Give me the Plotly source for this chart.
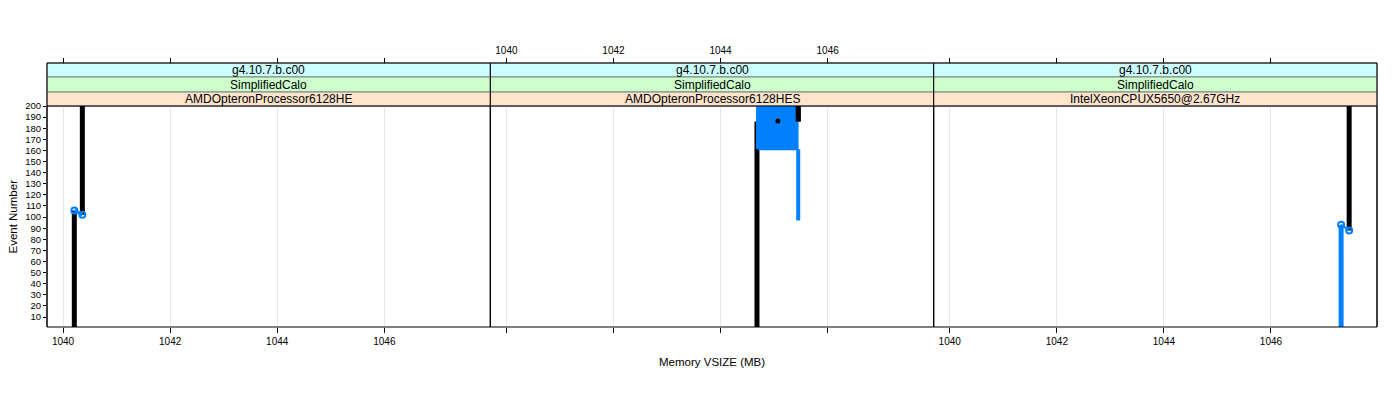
import plotly.graph_objects as go

# strip labels per panel (outer -> inner)
builds = ['g4.10.7.b.c00', 'g4.10.7.b.c00', 'g4.10.7.b.c00']
configs = ['SimplifiedCalo', 'SimplifiedCalo', 'SimplifiedCalo']
cpus = ['AMDOpteronProcessor6128HE', 'AMDOpteronProcessor6128HES', 'IntelXeonCPUX5650@2.67GHz']

x_ticks = [1040, 1042, 1044, 1046]
y_ticks = [10, 20, 30, 40, 50, 60, 70, 80, 90, 100, 110, 120, 130, 140, 150, 160, 170, 180, 190, 200]

# panel 1
p1_black_x = [1040.21, 1040.21, None, 1040.36, 1040.36]
p1_black_y = [1, 106, None, 102, 200]
p1_blue_x = [1040.21, 1040.36]
p1_blue_y = [106, 102]

# panel 2
p2_black_x = [1044.68, 1044.68, None, 1045.45, 1045.45]
p2_black_y = [1, 186, None, 186, 200]
p2_dot_x = [1045.07]
p2_dot_y = [186.5]
p2_zig_x = [1044.70, 1045.42, 1044.70, 1045.42, 1044.70, 1045.42, 1044.70, 1045.42,
            1044.70, 1045.42, 1044.70, 1045.42, 1044.70, 1045.42, 1044.70, 1045.42,
            1044.70, 1045.42, 1044.70, 1045.42, 1044.70, 1045.42, 1044.70, 1045.42,
            1044.70, 1045.42, 1044.70, 1045.42, 1044.70, 1045.42, 1044.70, 1045.42,
            1044.70, 1045.42, 1044.70, 1045.42, 1044.70, 1045.42, 1044.70, 1045.42]
p2_zig_y = [161, 162, 163, 164, 165, 166, 167, 168, 169, 170, 171, 172, 173, 174, 175, 176,
            177, 178, 179, 180, 181, 182, 183, 184, 185, 186, 187, 188, 189, 190, 191, 192,
            193, 194, 195, 196, 197, 198, 199, 200]
p2_blue_x = [1045.45, 1045.45]
p2_blue_y = [161, 97]

# panel 3
p3_black_x = [1047.46, 1047.46]
p3_black_y = [88, 200]
p3_blue_x = [1047.31, 1047.31, 1047.46]
p3_blue_y = [1, 93, 88]

BLACK = '#000000'
BLUE = '#0080ff'
FONT = 'Liberation Sans, Arial, sans-serif'

fig = go.Figure()


def line(x, y, color, width, xa, mode='lines', marker=None, shape='linear'):
    fig.add_trace(go.Scatter(x=x, y=y, mode=mode, xaxis=xa, yaxis='y',
                             line=dict(color=color, width=width, shape=shape),
                             marker=marker, showlegend=False, hoverinfo='skip'))


open_circle = dict(symbol='circle-open', size=6, color=BLUE, line=dict(width=2, color=BLUE))

line(p1_black_x, p1_black_y, BLACK, 5, 'x')
line(p1_blue_x, p1_blue_y, BLUE, 3, 'x', mode='lines+markers', marker=open_circle)

line(p2_black_x, p2_black_y, BLACK, 5, 'x2')
line(p2_zig_x, p2_zig_y, BLUE, 4, 'x2', shape='vh')
line(p2_blue_x, p2_blue_y, BLUE, 4, 'x2')
line(p2_black_x[3:], p2_black_y[3:], BLACK, 5, 'x2')
line(p2_dot_x, p2_dot_y, BLACK, 1, 'x2', mode='markers', marker=dict(size=5, color=BLACK))

line(p3_blue_x[:2], p3_blue_y[:2], BLUE, 5, 'x3')
line(p3_black_x, p3_black_y, BLACK, 5, 'x3')
line(p3_blue_x[1:], p3_blue_y[1:], BLUE, 2, 'x3', mode='lines+markers', marker=open_circle)

# dummy traces so the top axes get drawn
for xa in ['x4', 'x5', 'x6']:
    fig.add_trace(go.Scatter(x=[None], y=[None], xaxis=xa, yaxis='y',
                             showlegend=False, hoverinfo='skip'))

xr = [1039.7, 1047.98]
ydom = [0, 0.837]
doms = [[0, 1/3], [1/3, 2/3], [2/3, 1]]
tickfont = dict(family=FONT, size=10, color='black')

base = dict(range=xr, tickvals=x_ticks, ticks='outside', ticklen=5, tickcolor='black',
            tickfont=tickfont, zeroline=False, showline=False, automargin=False)

# page body adds an 8px offset, so the figure is 8px smaller on each side
fig.update_layout(
    width=1392, height=392,
    margin=dict(l=39, r=23, t=55, b=73, autoexpand=False),
    paper_bgcolor='white', plot_bgcolor='white',
    font=dict(family=FONT, color='black'),
    yaxis=dict(domain=ydom, range=[1, 200], tickvals=y_ticks, ticks='outside', ticklen=3,
               tickcolor='black', tickfont=dict(family=FONT, size=9.5, color='black'),
               showgrid=False, zeroline=False, automargin=False, anchor='x'),
    xaxis=dict(domain=doms[0], anchor='y', showgrid=True, gridcolor='#e6e6e6', **base),
    xaxis2=dict(domain=doms[1], anchor='y', showgrid=True, gridcolor='#e6e6e6',
                showticklabels=False, **base),
    xaxis3=dict(domain=doms[2], anchor='y', showgrid=True, gridcolor='#e6e6e6', **base),
    xaxis4=dict(overlaying='x', anchor='free', position=1, side='top', showgrid=False,
                showticklabels=False, **base),
    xaxis5=dict(overlaying='x2', anchor='free', position=1, side='top', showgrid=False,
                showticklabels=True, **base),
    xaxis6=dict(overlaying='x3', anchor='free', position=1, side='top', showgrid=False,
                showticklabels=False, **base),
)

# strips
strip_rows = [(0.947, 1.0, '#ccffff', builds), (0.890, 0.947, '#ccffcc', configs),
              (0.837, 0.890, '#ffe5cc', cpus)]
for y0, y1, col, labels in strip_rows:
    for (d0, d1), lab in zip(doms, labels):
        fig.add_shape(type='rect', xref='paper', yref='paper', x0=d0, x1=d1, y0=y0, y1=y1,
                      fillcolor=col, line=dict(color='#808080', width=1), layer='below')
        fig.add_annotation(x=(d0 + d1) / 2, y=(y0 + y1) / 2, xref='paper', yref='paper',
                           xanchor='center', yanchor='middle',
                           text=lab, showarrow=False, font=dict(size=12, family=FONT, color='black'))

# panel frames
for d0, d1 in doms:
    fig.add_shape(type='rect', xref='paper', yref='paper', x0=d0, x1=d1, y0=0, y1=ydom[1],
                  line=dict(color='black', width=1), layer='above')
    fig.add_shape(type='line', xref='paper', yref='paper', x0=d0, x1=d0, y0=0, y1=1,
                  line=dict(color='black', width=1))
fig.add_shape(type='line', xref='paper', yref='paper', x0=1, x1=1, y0=0, y1=1,
              line=dict(color='black', width=1))
fig.add_shape(type='line', xref='paper', yref='paper', x0=0, x1=1, y0=1, y1=1,
              line=dict(color='black', width=1))

fig.add_annotation(x=0.5, y=-0.1326, xref='paper', yref='paper', text='Memory VSIZE (MB)',
                   xanchor='center', yanchor='middle',
                   showarrow=False, font=dict(size=11.5, family=FONT, color='black'))
fig.add_annotation(x=-0.0263, y=ydom[1] / 2, xref='paper', yref='paper', text='Event Number',
                   xanchor='center', yanchor='middle', textangle=-90,
                   showarrow=False, font=dict(size=11.5, family=FONT, color='black'))

fig.write_html('out.html')
